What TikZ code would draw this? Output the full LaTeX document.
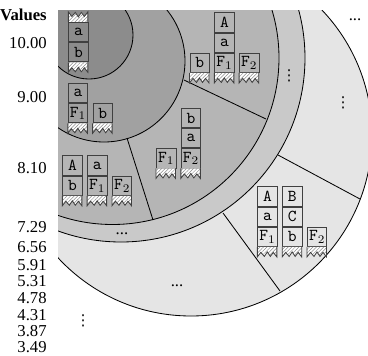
\documentclass[tikz,border=0pt]{standalone}
\usepackage{fontspec}
\setmainfont{Liberation Serif}
\newfontfamily\symfont{DejaVu Sans}
\usepackage{tikz}
\usetikzlibrary{positioning,patterns.meta}

\definecolor{levelA}{gray}{0.55}
\definecolor{levelB}{gray}{0.63}
\definecolor{levelC}{gray}{0.71}
\definecolor{levelD}{gray}{0.79}
\definecolor{levelE}{gray}{0.90}

% hatched, torn end of a stack (anchor = a corner of the end cell)
\newcommand{\tornend}[2][]{%
  \path[shift={(#2)},#1,fill=white,
        postaction={pattern={Lines[angle=45,distance=1.5pt,line width=.3pt]},pattern color=black!45}]
    (0,0) -- (0,10) -- (3.5,5.5) -- (7,9.5) -- (10,5) -- (13,9.5) -- (16,5.5) -- (19.5,10) -- (19.5,0) -- cycle;
  \draw[tornline,shift={(#2)},#1]
    (0,0) -- (0,10) -- (3.5,5.5) -- (7,9.5) -- (10,5) -- (13,9.5) -- (16,5.5) -- (19.5,10) -- (19.5,0);}

\begin{document}
\begin{tikzpicture}[
  x=0.6pt, y=-0.6pt,
  cell/.style={draw=black!75, line width=.5pt, minimum width=11.7pt, minimum height=11.6pt,
               inner sep=0pt, font=\ttfamily},
  tornline/.style={draw=black!75, line width=.5pt},
  value/.style={anchor=east, inner sep=0pt},
  ring/.style={draw=black, line width=.5pt},
  cut/.style={draw=black, line width=.5pt},
  more/.style={inner sep=0pt, font=\symfont\small},
  node distance=0pt and 2.7pt,
]
  \useasboundingbox (0,0) rectangle (368,355);

  % nested levels, outermost first
  \begin{scope}
    \clip (58,10) rectangle (368,355);
    \filldraw[ring, fill=levelE] (191,135) circle (181);
    \filldraw[ring, fill=levelD] (121,58) circle (184);
    \filldraw[ring, fill=levelC] (112.5,58) circle (166.5);
    \filldraw[ring, fill=levelB] (104,61) circle (81);
    \filldraw[ring, fill=levelA] (89,35) circle (44);
  \end{scope}

  \draw[cut] (184,80) -- (266,119);
  \draw[cut] (127,138) -- (153,220);
  \draw[cut] (278,155) -- (360,199);
  \draw[cut] (223,213) -- (280,291);

  % value axis
  \node[value, font=\bfseries] (vhead) at (47,15) {Values};
  \foreach \val/\ypos in {10.00/43, 9.00/97, 8.10/168, 7.29/227, 6.56/247, 5.91/265,
                          5.31/281, 4.78/298, 4.31/315, 3.87/331, 3.49/347}
    \node[value] (v\ypos) at (47,\ypos) {\val};
  \node[more] (vmore) at (83,321) {⋮};

  % innermost level
  \node[cell] (pa) at (78.5,32) {a};
  \node[cell, below=of pa] (pb) {b};
  \tornend[yscale=-1]{pa.north west}
  \tornend{pb.south west}

  % second level
  \node[cell] (qa) at (78,93) {a};
  \node[cell, below=of qa] (qf) {F$_1$};
  \node[cell, right=of qf] (qb) {b};
  \tornend{qf.south west}
  \tornend{qb.south west}

  % third level, three parts
  \node[cell] (rA) at (224.5,22.5) {A};
  \node[cell, below=of rA] (ra) {a};
  \node[cell, below=of ra] (rf) {F$_1$};
  \node[cell, left=of rf] (rb) {b};
  \node[cell, right=of rf] (rg) {F$_2$};
  \tornend{rb.south west}
  \tornend{rf.south west}
  \tornend{rg.south west}

  \node[cell] (sb) at (191,118) {b};
  \node[cell, below=of sb] (sa) {a};
  \node[cell, below=of sa] (sg) {F$_2$};
  \node[cell, left=of sg] (sf) {F$_1$};
  \tornend{sf.south west}
  \tornend{sg.south west}

  \node[cell] (tA) at (72.5,165.5) {A};
  \node[cell, below=of tA] (tb) {b};
  \node[cell, right=of tA] (ta) {a};
  \node[cell, below=of ta] (tf) {F$_1$};
  \node[cell, right=of tf] (tg) {F$_2$};
  \tornend{tb.south west}
  \tornend{tf.south west}
  \tornend{tg.south west}

  \node[more] (rmore) at (289,76) {⋮};

  % fourth level band
  \node (dmore) at (122,234) {...};

  % outer level
  \node[cell] (uA) at (267.5,196.5) {A};
  \node[cell, below=of uA] (ua) {a};
  \node[cell, below=of ua] (uf) {F$_1$};
  \node[cell, right=of uA] (uB) {B};
  \node[cell, below=of uB] (uC) {C};
  \node[cell, below=of uC] (ub) {b};
  \node[cell, right=of ub] (ug) {F$_2$};
  \tornend{uf.south west}
  \tornend{ub.south west}
  \tornend{ug.south west}

  \node[more] (emore) at (343,103) {⋮};
  \node (elow) at (177,286) {...};
  \node (eout) at (355,20) {...};
\end{tikzpicture}
\end{document}
